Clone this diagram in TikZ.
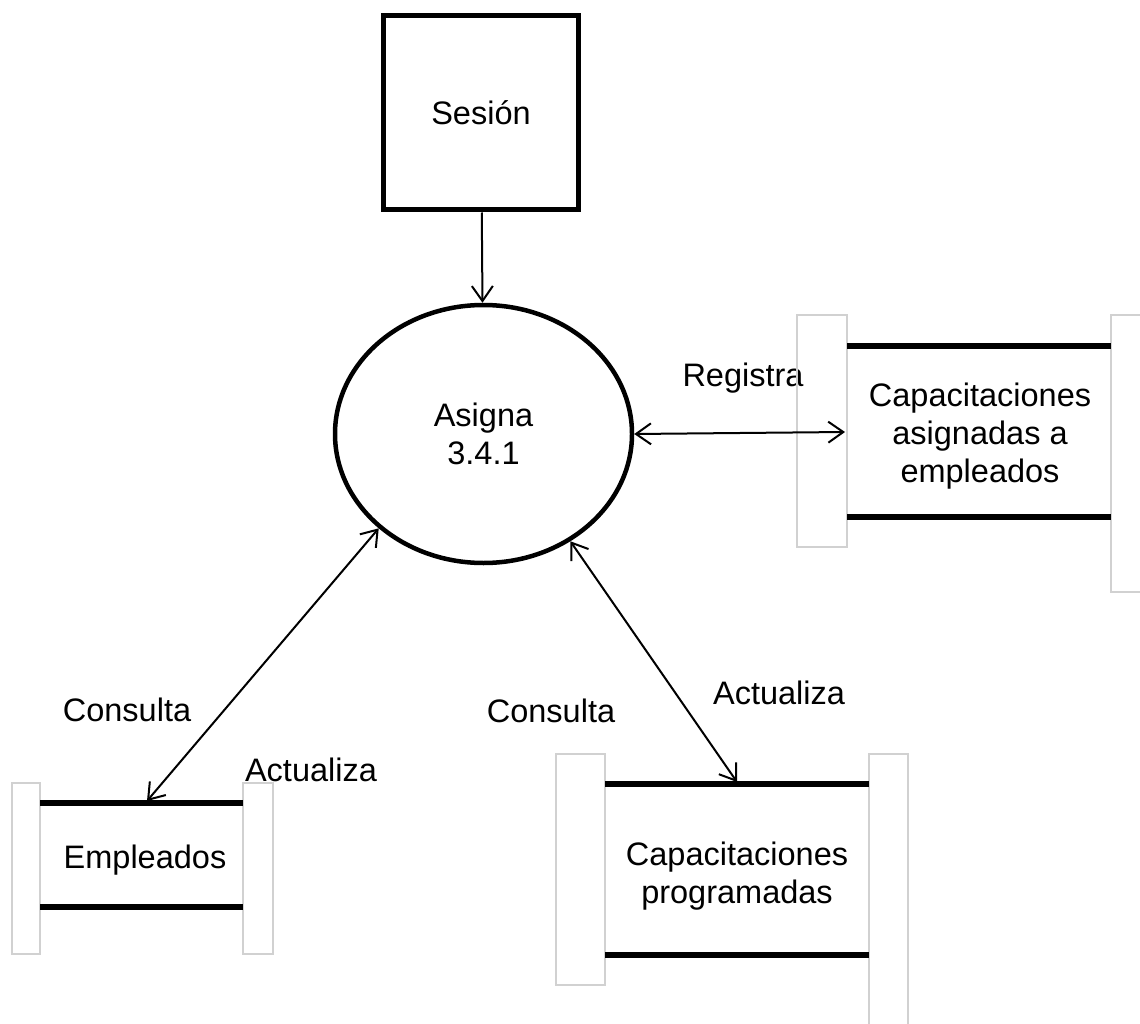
\documentclass[tikz,border=0pt]{standalone}
\usepackage{fontspec}
\setmainfont{Liberation Sans}
\usetikzlibrary{arrows.meta,shapes.geometric}

\begin{document}
\begin{tikzpicture}[x=1pt,y=-1pt,
    every node/.style={font=\fontsize{32.5}{38}\selectfont, align=center},
    entity/.style={draw, line width=5pt, minimum width=195pt, minimum height=194pt},
    proc/.style={draw, ellipse, line width=4.5pt, minimum width=297pt, minimum height=258pt},
    flow/.style={line width=2pt, {Straight Barb[length=15pt,width=21pt]}-{Straight Barb[length=15pt,width=21pt]}},
    inflow/.style={line width=2pt, -{Straight Barb[length=15pt,width=21pt]}},
    side/.style={draw=black!18, line width=1.2pt},
    bar/.style={line width=5.5pt}]
    \useasboundingbox (0,0) rectangle (1140,1024);
    \node[entity] (sesion) at (481,113) {Sesión};
    \node[proc] (asigna) at (483.5,434) {Asigna\\3.4.1};
    \node (asignados) at (980,436) {Capacitaciones\\asignadas a\\empleados};
    \node (empleados) at (145,860) {Empleados};
    \node (programadas) at (737,876) {Capacitaciones\\programadas};
    \node (registra) at (743,378) {Registra};
    \node (consulta1) at (127,710) {Consulta};
    \node (actualiza1) at (311,770) {Actualiza};
    \node (consulta2) at (551,711) {Consulta};
    \node (actualiza2) at (779,693) {Actualiza};
    \draw[side] (797,315) rectangle (847,547);
    \draw[side] (1141,315) -- (1111,315) -- (1111,592) -- (1141,592);
    \draw[bar] (847,346) -- (1111,346) (847,517) -- (1111,517);
    \draw[side] (12,783) rectangle (40,954);
    \draw[side] (243,783) rectangle (273,954);
    \draw[bar] (40,803) -- (243,803) (40,907) -- (243,907);
    \draw[side] (556,754) rectangle (605,985);
    \draw[side] (869,1025) -- (869,754) -- (908,754) -- (908,1025);
    \draw[bar] (605,784) -- (869,784) (605,955) -- (869,955);
    \coordinate (asignadosin) at (845,432);
    \coordinate (empleadosin) at (147,801);
    \coordinate (programadasin) at (737,782);
    \draw[inflow] (sesion) -- (asigna);
    \draw[flow] (asigna.0) -- (asignadosin);
    \draw[flow] (asigna.222) -- (empleadosin);
    \draw[flow] (asigna.309) -- (programadasin);
\end{tikzpicture}
\end{document}
